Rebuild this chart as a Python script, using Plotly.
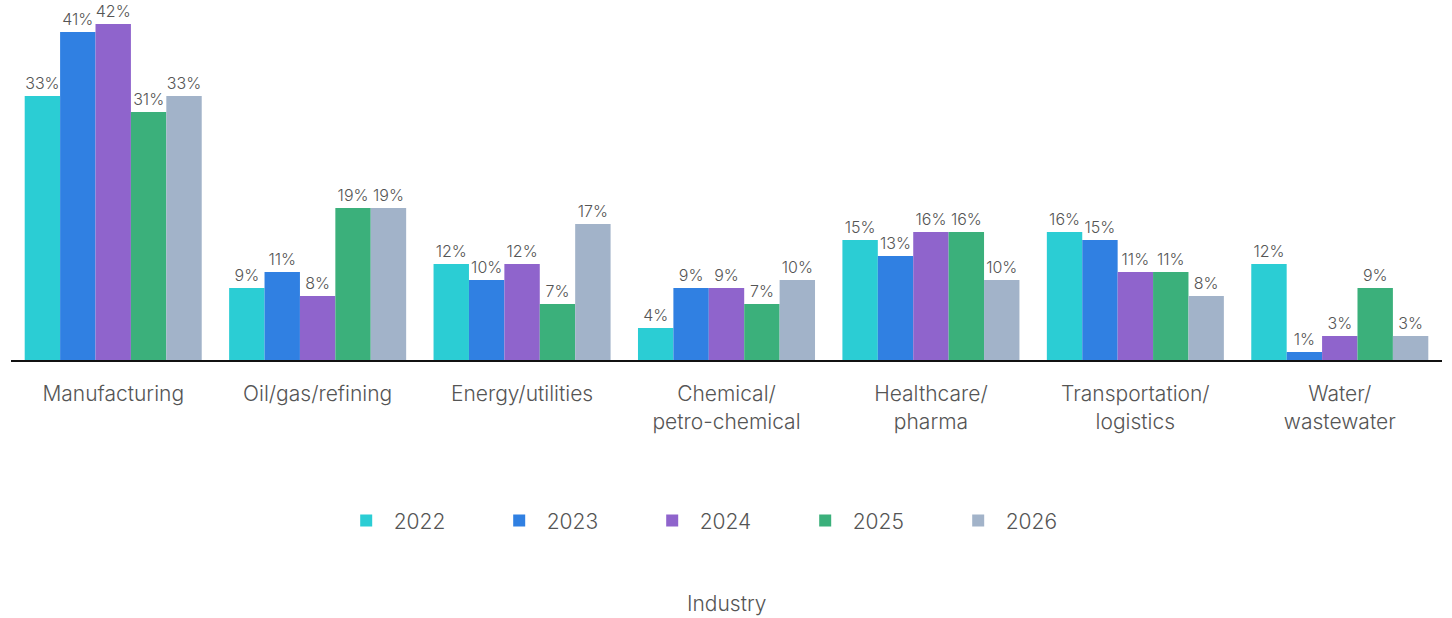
import plotly.graph_objects as go

categories = [
    "Manufacturing",
    "Oil/gas/refining",
    "Energy/utilities",
    "Chemical/<br>petro-chemical",
    "Healthcare/<br>pharma",
    "Transportation/<br>logistics",
    "Water/<br>wastewater",
]
years = ["2022", "2023", "2024", "2025", "2026"]
values_2022 = [33, 9, 12, 4, 15, 16, 12]
values_2023 = [41, 11, 10, 9, 13, 15, 1]
values_2024 = [42, 8, 12, 9, 16, 11, 3]
values_2025 = [31, 19, 7, 7, 16, 11, 9]
values_2026 = [33, 19, 17, 10, 10, 8, 3]
series = [values_2022, values_2023, values_2024, values_2025, values_2026]
colors = ["#2bcdd4", "#3080e2", "#8f64cc", "#3bb07b", "#a2b3c9"]

FONT = "Inter, Roboto, sans-serif"
TEXT_GREY = "#555555"

fig = go.Figure()
for year, vals, col in zip(years, series, colors):
    fig.add_trace(go.Bar(
        name=year,
        x=categories,
        y=vals,
        marker=dict(color=col, line=dict(width=0)),
        text=[f"{v}%" for v in vals],
        textposition="outside",
        textfont=dict(family=FONT, size=16, color=TEXT_GREY, weight=300),
        cliponaxis=False,
        hovertemplate="%{x}: %{y}%<extra>" + year + "</extra>",
    ))

fig.update_layout(
    width=1452,
    height=618,
    margin=dict(l=11, r=10, t=0, b=258),
    barmode="group",
    bargap=0.134,
    bargroupgap=0,
    plot_bgcolor="white",
    paper_bgcolor="white",
    font=dict(family=FONT, color=TEXT_GREY),
    showlegend=True,
    legend=dict(
        orientation="h",
        x=0.229,
        xanchor="left",
        y=-0.447,
        yanchor="middle",
        font=dict(family=FONT, size=21, color=TEXT_GREY, weight=300),
        entrywidth=93,
        entrywidthmode="pixels",
        itemwidth=45,
    ),
    xaxis=dict(
        showline=True,
        linecolor="#111111",
        linewidth=2,
        layer="above traces",
        showgrid=False,
        ticks="",
        ticklabelstandoff=14,
        tickfont=dict(family=FONT, size=21, color=TEXT_GREY, weight=300),
    ),
    yaxis=dict(
        range=[0, 45],
        visible=False,
        showgrid=False,
        zeroline=False,
    ),
    annotations=[dict(
        text="Industry",
        xref="paper",
        yref="paper",
        x=0.5,
        y=-0.675,
        xanchor="center",
        yanchor="middle",
        showarrow=False,
        font=dict(family=FONT, size=21, color=TEXT_GREY, weight=300),
    )],
)

fig.write_html("out.html")
